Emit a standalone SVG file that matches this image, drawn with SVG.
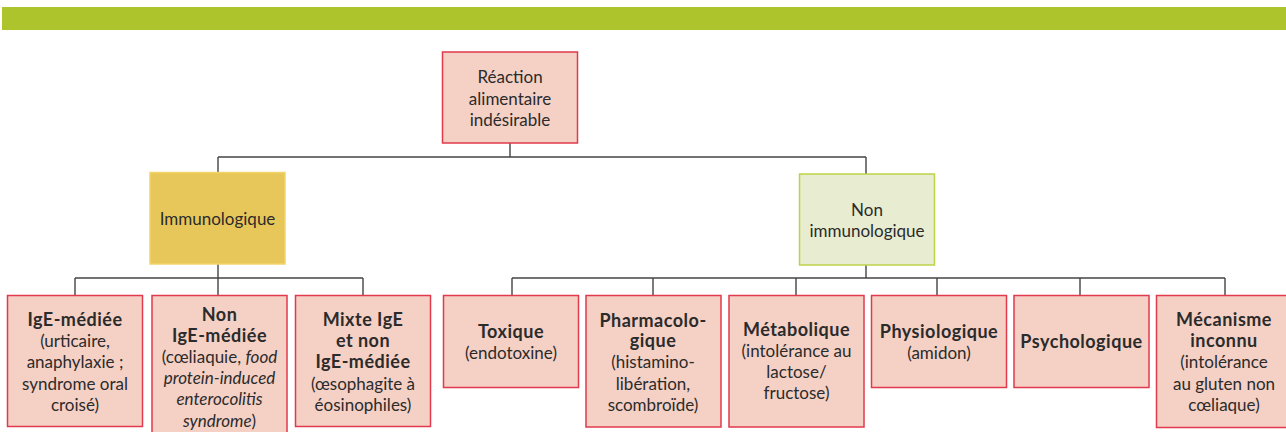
<svg xmlns="http://www.w3.org/2000/svg" width="1286" height="432" viewBox="0 0 1286 432">
<style>
text{font-family:Lato,"Open Sans","DejaVu Sans",sans-serif;font-size:17px;fill:#2b2b2b;text-anchor:middle}
.b{font-weight:bold;font-size:18px;letter-spacing:0.5px}
.i{font-style:italic}
.pink{fill:#f5d0c5;stroke:#e03a4c;stroke-width:1.5}
.yel{fill:#e8c75a;stroke:#f2d46a;stroke-width:1.5}
.grn{fill:#e8ecd1;stroke:#bfd247;stroke-width:1.5}
.ln{fill:none;stroke:#444;stroke-width:1.4}
</style>
<rect x="2" y="7" width="1284" height="23" fill="#adc42d"/>
<g id="connectors" class="ln">
<path d="M510 143V157M218 157H866M218 157V172M866 157V174"/>
<path d="M218 264V278M75 278H363M75 278V295M218 278V295M363 278V295"/>
<path d="M866 265V278M512 278H1225M512 278V295M653 278V295M796 278V295M937 278V295M1080 278V295M1225 278V295"/>
</g>
<g id="root"><rect class="pink" x="442.5" y="52" width="135" height="91"/>
<text x="510" y="83">Réaction</text><text x="510" y="104.5">alimentaire</text><text x="510" y="126">indésirable</text></g>
<g id="immuno"><rect class="yel" x="150" y="172.5" width="135" height="91.5"/>
<text x="217.5" y="225">Immunologique</text></g>
<g id="nonimmuno"><rect class="grn" x="799.5" y="174" width="135" height="91"/>
<text x="867" y="216">Non</text><text x="867" y="237">immunologique</text></g>
<g id="ige"><rect class="pink" x="7.5" y="295.5" width="135" height="131"/>
<text class="b" x="75" y="326">IgE-médiée</text><text x="75" y="347">(urticaire,</text><text x="75" y="368">anaphylaxie ;</text><text x="75" y="389.5">syndrome oral</text><text x="75" y="410.5">croisé)</text></g>
<g id="nonige"><rect class="pink" x="152" y="295.5" width="135" height="150"/>
<text class="b" x="219.5" y="321">Non</text><text class="b" x="219.5" y="342">IgE-médiée</text><text x="219.5" y="363">(cœliaquie, <tspan class="i">food</tspan></text><text class="i" x="219.5" y="384">protein-induced</text><text class="i" x="219.5" y="405">enterocolitis</text><text x="219.5" y="426.5"><tspan class="i">syndrome</tspan>)</text></g>
<g id="mixte"><rect class="pink" x="295.5" y="295.5" width="135" height="131"/>
<text class="b" x="363" y="326">Mixte IgE</text><text class="b" x="363" y="347">et non</text><text class="b" x="363" y="368">IgE-médiée</text><text x="363" y="389.5">(œsophagite à</text><text x="363" y="410.5">éosinophiles)</text></g>
<g id="toxique"><rect class="pink" x="443.5" y="295.5" width="135" height="92"/>
<text class="b" x="511" y="338">Toxique</text><text x="511" y="359">(endotoxine)</text></g>
<g id="pharmaco"><rect class="pink" x="586" y="295.5" width="135" height="131.5"/>
<text class="b" x="653" y="326.5">Pharmacolo-</text><text class="b" x="653" y="347">gique</text><text x="653" y="368">(histamino-</text><text x="653" y="389.5">libération,</text><text x="653" y="410.5">scombroïde)</text></g>
<g id="metabolique"><rect class="pink" x="729" y="295.5" width="135" height="131.5"/>
<text class="b" x="796.5" y="336">Métabolique</text><text x="796.5" y="357">(intolérance au</text><text x="796.5" y="378">lactose/</text><text x="796.5" y="399">fructose)</text></g>
<g id="physio"><rect class="pink" x="871.5" y="295.5" width="135" height="92"/>
<text class="b" x="939" y="338">Physiologique</text><text x="939" y="359">(amidon)</text></g>
<g id="psycho"><rect class="pink" x="1014" y="295.5" width="135" height="92"/>
<text class="b" x="1081.5" y="348">Psychologique</text></g>
<g id="mecanisme"><rect class="pink" x="1156.5" y="295.5" width="135" height="132"/>
<text class="b" x="1224" y="326">Mécanisme</text><text class="b" x="1224" y="347">inconnu</text><text x="1224" y="368">(intolérance</text><text x="1224" y="389.5">au gluten non</text><text x="1224" y="410.5">cœliaque)</text></g>
</svg>
